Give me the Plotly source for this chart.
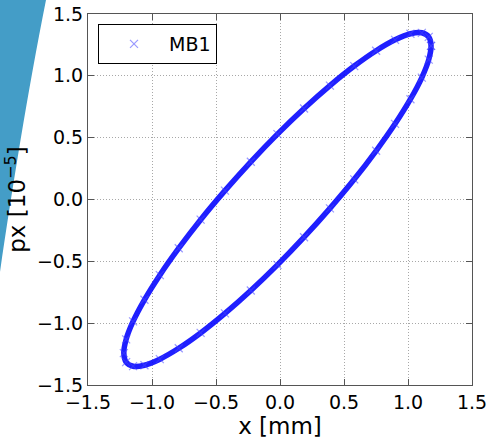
import plotly.graph_objects as go

# Phase-space points of the MB1 ellipse (every 10 degrees of phase)
x_mm = [1.180, 1.162, 1.108, 1.019, 0.899, 0.751, 0.580, 0.390, 0.188, -0.020,
        -0.228, -0.430, -0.620, -0.791, -0.939, -1.059, -1.148, -1.202, -1.220,
        -1.202, -1.148, -1.059, -0.939, -0.791, -0.620, -0.430, -0.228, -0.020,
        0.188, 0.390, 0.580, 0.751, 0.899, 1.019, 1.108, 1.162, 1.180]
px_val = [1.242, 1.131, 0.986, 0.811, 0.612, 0.394, 0.163, -0.072, -0.305, -0.529,
          -0.736, -0.921, -1.079, -1.203, -1.291, -1.340, -1.348, -1.315, -1.242,
          -1.131, -0.986, -0.811, -0.612, -0.394, -0.163, 0.072, 0.305, 0.529,
          0.736, 0.921, 1.079, 1.203, 1.291, 1.340, 1.348, 1.315, 1.242]
series_name = "MB1"
tick_vals = [-1.5, -1.0, -0.5, 0.0, 0.5, 1.0, 1.5]
tick_text = ["\u22121.5", "\u22121.0", "\u22120.5", "0.0", "0.5", "1.0", "1.5"]

W, H = 489, 439
L, R, T, B = 88, 17, 14, 54
pw, ph = W - L - R, H - T - B

def paper_x(p):
    return (p - L) / pw

def paper_y(p):
    return (H - B - p) / ph

fig = go.Figure()
fig.add_trace(go.Scatter(x=x_mm, y=px_val, mode="lines",
                         line=dict(color="rgba(0,0,255,0.88)", width=5.5, shape="spline", smoothing=1.0),
                         showlegend=False, hoverinfo="skip"))
fig.add_trace(go.Scatter(x=x_mm, y=px_val, mode="markers", name=series_name,
                         marker=dict(symbol="x-thin", size=8,
                                     line=dict(color="rgba(70,70,255,0.55)", width=1.2),
                                     color="rgba(70,70,255,0.55)")))

font = "DejaVu Sans"
axis_common = dict(range=[-1.5, 1.5], tickvals=tick_vals, ticktext=tick_text,
                   showgrid=True, gridcolor="#a8a8a8", griddash="1px,2px", gridwidth=1,
                   zeroline=False, showline=True, linecolor="#555555", linewidth=1.2,
                   mirror="ticks", ticks="inside", ticklen=6, tickcolor="#555555",
                   automargin=False,
                   tickfont=dict(family=font, size=19, color="black"))

fig.update_layout(
    width=W, height=H,
    margin=dict(l=L, r=R, t=T, b=B, autoexpand=False),
    paper_bgcolor="white", plot_bgcolor="white",
    xaxis=dict(**axis_common,
               title=dict(text="x [mm]", font=dict(family=font, size=23, color="black"), standoff=2)),
    yaxis=dict(**axis_common,
               title=dict(text="px [10<sup>\u22125</sup>]", font=dict(family=font, size=23, color="black"), standoff=4)),
    legend=dict(x=paper_x(98), y=paper_y(24), xanchor="left", yanchor="top",
                bgcolor="white", bordercolor="black", borderwidth=1,
                font=dict(family=font, size=19, color="black"), itemwidth=60),
    showlegend=True,
)

# decorative blue swoosh in the top-left corner of the page
fig.add_shape(type="path", xref="paper", yref="paper", layer="below",
              path=(f"M {paper_x(0)},{paper_y(0)} L {paper_x(46)},{paper_y(0)} "
                    f"C {paper_x(28)},{paper_y(90)} {paper_x(12)},{paper_y(190)} {paper_x(0)},{paper_y(272)} Z"),
              fillcolor="#449dc7", line=dict(width=0))

fig.write_html("out.html")
